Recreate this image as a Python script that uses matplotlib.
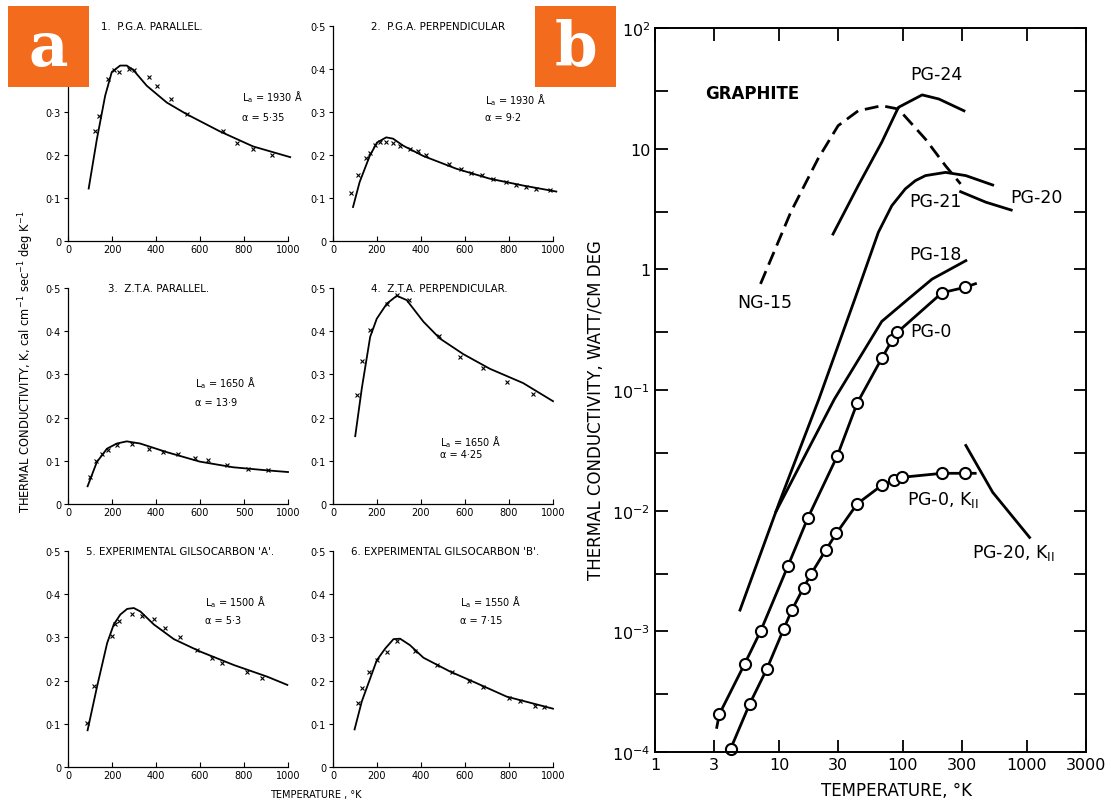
import matplotlib
matplotlib.use("Agg")
import matplotlib.pyplot as plt
from matplotlib.patches import Rectangle
from matplotlib.ticker import NullLocator, FixedLocator

plt.rcParams['font.family'] = ['DejaVu Sans']

# ---------------- panel (a): K(T) for six graphites, linear axes ----------------
# 1. P.G.A. parallel
pga_par_T = [94, 131, 169, 199, 237, 267, 298, 358, 449, 539, 690, 841, 1010]
pga_par_K = [0.122, 0.236, 0.338, 0.393, 0.408, 0.408, 0.397, 0.361, 0.322, 0.295, 0.255, 0.220, 0.195]
pga_par_pts_T = [121, 139, 184, 207, 230, 275, 298, 370, 403, 467, 542, 705, 769, 841, 929]
pga_par_pts_K = [0.255, 0.290, 0.377, 0.397, 0.394, 0.400, 0.397, 0.381, 0.360, 0.330, 0.295, 0.255, 0.229, 0.214, 0.200]

# 2. P.G.A. perpendicular
pga_perp_T = [91, 121, 167, 200, 242, 273, 318, 409, 561, 712, 864, 1015]
pga_perp_K = [0.079, 0.137, 0.198, 0.229, 0.241, 0.238, 0.222, 0.198, 0.168, 0.145, 0.129, 0.115]
pga_perp_pts_T = [83, 114, 148, 167, 189, 212, 242, 273, 303, 348, 386, 424, 527, 583, 629, 679, 727, 788, 833, 879, 924, 985]
pga_perp_pts_K = [0.112, 0.154, 0.192, 0.205, 0.223, 0.231, 0.231, 0.229, 0.222, 0.214, 0.210, 0.201,
                  0.178, 0.168, 0.158, 0.154, 0.145, 0.138, 0.131, 0.125, 0.122, 0.118]

# 3. Z.T.A. parallel
zta_par_T = [89, 131, 177, 222, 267, 328, 449, 600, 751, 902, 1000]
zta_par_K = [0.041, 0.097, 0.128, 0.140, 0.145, 0.140, 0.120, 0.098, 0.085, 0.078, 0.074]
zta_par_pts_T = [98, 128, 154, 184, 222, 290, 366, 434, 502, 577, 637, 721, 819, 909]
zta_par_pts_K = [0.062, 0.099, 0.115, 0.126, 0.136, 0.140, 0.128, 0.120, 0.115, 0.107, 0.101, 0.091, 0.081, 0.079]

# 4. Z.T.A. perpendicular
zta_perp_T = [101, 131, 169, 199, 245, 290, 335, 411, 486, 592, 713, 864, 1000]
zta_perp_K = [0.157, 0.268, 0.387, 0.429, 0.464, 0.482, 0.472, 0.422, 0.383, 0.347, 0.313, 0.280, 0.238]
zta_perp_pts_T = [109, 131, 169, 245, 290, 347, 483, 577, 680, 790, 909]
zta_perp_pts_K = [0.253, 0.330, 0.403, 0.462, 0.483, 0.472, 0.390, 0.341, 0.314, 0.282, 0.255]

# 5. Experimental Gilsocarbon 'A'
gil_a_T = [89, 132, 178, 208, 238, 269, 299, 329, 390, 481, 602, 754, 906, 997]
gil_a_K = [0.085, 0.186, 0.287, 0.330, 0.353, 0.366, 0.368, 0.360, 0.330, 0.296, 0.267, 0.236, 0.209, 0.190]
gil_a_pts_T = [86, 120, 200, 215, 231, 291, 337, 390, 443, 511, 587, 656, 701, 815, 883]
gil_a_pts_K = [0.102, 0.188, 0.304, 0.332, 0.337, 0.354, 0.349, 0.343, 0.322, 0.301, 0.271, 0.252, 0.240, 0.219, 0.205]

# 6. Experimental Gilsocarbon 'B'
gil_b_T = [98, 131, 169, 199, 237, 275, 305, 350, 411, 532, 653, 789, 1000]
gil_b_K = [0.087, 0.152, 0.205, 0.247, 0.274, 0.296, 0.297, 0.282, 0.253, 0.221, 0.194, 0.163, 0.135]
gil_b_pts_T = [113, 131, 165, 202, 245, 293, 374, 473, 541, 616, 681, 798, 851, 919, 957]
gil_b_pts_K = [0.148, 0.184, 0.219, 0.247, 0.266, 0.291, 0.268, 0.236, 0.221, 0.199, 0.186, 0.159, 0.152, 0.142, 0.140]

titles_a = ["1.  P.G.A. PARALLEL.", "2.  P.G.A. PERPENDICULAR", "3.  Z.T.A. PARALLEL.",
            "4.  Z.T.A. PERPENDICULAR.", "5. EXPERIMENTAL GILSOCARBON 'A'.",
            "6. EXPERIMENTAL GILSOCARBON 'B'."]
la_values = ["1930", "1930", "1650", "1650", "1500", "1550"]
alpha_values = ["5·35", "9·2", "13·9", "4·25", "5·3", "7·15"]
xtick_vals_a = [0, 200, 400, 600, 800, 1000]
xtick_labels_a = [
    ["0", "200", "400", "600", "800", "1000"],
    ["0", "200", "400", "600", "800", "1000"],
    ["0", "200", "400", "600", "500", "1000"],
    ["0", "200", "200", "600", "800", "1000"],
    ["0", "200", "400", "600", "800", "1000"],
    ["0", "200", "400", "600", "800", "1000"],
]
ytick_vals_a = [0, 0.1, 0.2, 0.3, 0.4, 0.5]
ytick_labels_a = ["0", "0·1", "0·2", "0·3", "0·4", "0·5"]

# ---------------- panel (b): graphite K(T), log-log ----------------
ng15_T = [7.1, 12.5, 20.6, 30, 43.6, 67.5, 92, 152, 221, 292]
ng15_K = [0.757, 3.0, 8.2, 15.5, 20.6, 22.7, 21.3, 12.0, 7.2, 5.1]

pg24_T = [27.3, 43.6, 67.5, 92, 143, 195, 311]
pg24_K = [1.96, 4.94, 11.3, 22.0, 27.9, 25.8, 20.6]

pg21_T = [4.85, 10, 21, 41, 63.4, 81.4, 104.5, 126, 152, 221, 322, 530]
pg21_K = [1.5e-3, 0.0115, 0.084, 0.57, 2.03, 3.37, 4.64, 5.43, 5.98, 6.36, 5.98, 5.0]

pg20_T = [292, 467, 748]
pg20_K = [4.4, 3.6, 3.1]

pg18_T = [9.45, 17.3, 28, 67.5, 111, 172, 322]
pg18_K = [0.0098, 0.0325, 0.084, 0.37, 0.57, 0.83, 1.18]

pg0_line_T = [3.15, 3.3, 5.3, 7.1, 11.8, 17.1, 29.5, 42.8, 67.5, 82, 90, 207, 318, 385]
pg0_line_K = [1.6e-4, 2.05e-4, 5.4e-4, 1.0e-3, 3.47e-3, 8.7e-3, 0.0283, 0.078, 0.183, 0.26, 0.30, 0.64, 0.71, 0.76]
pg0_pts_T = [3.3, 5.3, 7.1, 11.8, 17.1, 29.5, 42.8, 67.5, 82, 90, 207, 318]
pg0_pts_K = [2.05e-4, 5.4e-4, 1.0e-3, 3.47e-3, 8.7e-3, 0.0283, 0.078, 0.183, 0.26, 0.30, 0.64, 0.71]

pg0par_line_T = [4.07, 5.8, 8.0, 10.9, 12.7, 15.8, 18.2, 23.8, 29.1, 42.8, 67.5, 84, 98, 207, 318, 383]
pg0par_line_K = [1.06e-4, 2.5e-4, 4.9e-4, 1.04e-3, 1.5e-3, 2.3e-3, 3.0e-3, 4.7e-3, 6.5e-3, 0.0114,
                 0.0162, 0.0178, 0.0189, 0.0204, 0.0204, 0.0204]
pg0par_pts_T = [4.07, 5.8, 8.0, 10.9, 12.7, 15.8, 18.2, 23.8, 29.1, 42.8, 67.5, 84, 98, 207, 318]
pg0par_pts_K = [1.06e-4, 2.5e-4, 4.9e-4, 1.04e-3, 1.5e-3, 2.3e-3, 3.0e-3, 4.7e-3, 6.5e-3, 0.0114,
                0.0162, 0.0178, 0.0189, 0.0204, 0.0204]

pg20par_T = [322, 530, 1052]
pg20par_K = [0.0347, 0.0142, 6.0e-3]

xticks_b = [1, 3, 10, 30, 100, 300, 1000, 3000]
xtick_labels_b = ["1", "3", "10", "30", "100", "300", "1000", "3000"]
yticks_b = [1e-4, 1e-3, 1e-2, 1e-1, 1, 10, 100]
ytick_labels_b = [r"$10^{-4}$", r"$10^{-3}$", r"$10^{-2}$", r"$10^{-1}$", "1", "10", r"$10^{2}$"]
yticks_minor_b = [3e-4, 3e-3, 3e-2, 3e-1, 3, 30]

# ---------------- figure ----------------
W, H = 1115, 803
fig = plt.figure(figsize=(W / 100, H / 100), dpi=100)
fig.patch.set_facecolor("white")

col_left = [68, 333]
row_zero = [242, 505, 768]
row_top = [27, 289, 552]
ax_w = 220

curves = [
    (pga_par_T, pga_par_K, pga_par_pts_T, pga_par_pts_K),
    (pga_perp_T, pga_perp_K, pga_perp_pts_T, pga_perp_pts_K),
    (zta_par_T, zta_par_K, zta_par_pts_T, zta_par_pts_K),
    (zta_perp_T, zta_perp_K, zta_perp_pts_T, zta_perp_pts_K),
    (gil_a_T, gil_a_K, gil_a_pts_T, gil_a_pts_K),
    (gil_b_T, gil_b_K, gil_b_pts_T, gil_b_pts_K),
]
title_x = [150, 172, 180, 172, 80, 80]
note_pos = [(790, 0.337, 0.288), (691, 0.330, 0.288), (577, 0.282, 0.236),
            (486, 0.146, 0.116), (623, 0.384, 0.340), (577, 0.384, 0.340)]

for i, (cT, cK, pT, pK) in enumerate(curves):
    r, c = divmod(i, 2)
    left = col_left[c] / W
    bottom = 1 - row_zero[r] / H
    height = (row_zero[r] - row_top[r]) / H
    ax = fig.add_axes([left, bottom, ax_w / W, height])
    ax.set_xlim(0, 1000)
    ax.set_ylim(0, 0.5)
    for s in ("top", "right"):
        ax.spines[s].set_visible(False)
    for s in ("left", "bottom"):
        ax.spines[s].set_linewidth(0.9)
    ax.set_xticks(xtick_vals_a)
    ax.set_xticklabels(xtick_labels_a[i])
    ax.set_yticks(ytick_vals_a)
    ylabels = list(ytick_labels_a)
    if i == 0:
        # the top two labels of the first plot sit under the panel badge
        ylabels[4] = ""
        ylabels[5] = ""
    ax.set_yticklabels(ylabels)
    ax.tick_params(axis="x", direction="in", length=3.5, width=0.8, labelsize=7, pad=2)
    ax.tick_params(axis="y", direction="out", length=3, width=0.8, labelsize=7, pad=2)
    ax.plot(cT, cK, color="black", lw=1.3, clip_on=False)
    ax.plot(pT, pK, ls="none", marker="x", ms=3.2, mew=0.8, color="black", clip_on=False)
    ax.text(title_x[i], 0.5, titles_a[i], fontsize=7.4, ha="left", va="center")
    nx, ny1, ny2 = note_pos[i]
    ax.text(nx, ny1, r"L$_{\mathregular{a}}$ = " + la_values[i] + " Å", fontsize=7, ha="left", va="center")
    ax.text(nx, ny2, "α = " + alpha_values[i], fontsize=7, ha="left", va="center")

fig.text(26 / W, 1 - 362 / H,
         r"THERMAL CONDUCTIVITY, K, cal cm$^{-1}$ sec$^{-1}$ deg K$^{-1}$",
         rotation=90, ha="center", va="center", fontsize=8.3)
fig.text(316 / W, 1 - 795 / H, "TEMPERATURE , °K", ha="center", va="center", fontsize=7)

# panel (b)
axb = fig.add_axes([655 / W, 1 - 753 / H, 431 / W, 724 / H])
axb.set_xscale("log")
axb.set_yscale("log")
axb.set_xlim(1, 3000)
axb.set_ylim(1e-4, 1e2)
axb.xaxis.set_major_locator(FixedLocator(xticks_b))
axb.xaxis.set_minor_locator(NullLocator())
axb.set_xticklabels(xtick_labels_b)
axb.yaxis.set_major_locator(FixedLocator(yticks_b))
axb.set_yticklabels(ytick_labels_b)
axb.yaxis.set_minor_locator(FixedLocator(yticks_minor_b))
axb.yaxis.set_minor_formatter(plt.NullFormatter())
axb.tick_params(which="both", direction="in", top=True, right=True,
                length=9, width=1.3, labelsize=11.5)
for s in axb.spines.values():
    s.set_linewidth(1.4)

lw_b = 2.0
axb.plot(ng15_T, ng15_K, color="black", lw=lw_b, ls=(0, (5, 2.5)))
axb.plot(pg24_T, pg24_K, color="black", lw=lw_b)
axb.plot(pg21_T, pg21_K, color="black", lw=lw_b)
axb.plot(pg20_T, pg20_K, color="black", lw=lw_b)
axb.plot(pg18_T, pg18_K, color="black", lw=lw_b)
axb.plot(pg0_line_T, pg0_line_K, color="black", lw=lw_b)
axb.plot(pg0_pts_T, pg0_pts_K, ls="none", marker="o", ms=8, mfc="white", mec="black", mew=1.5, clip_on=False)
axb.plot(pg0par_line_T, pg0par_line_K, color="black", lw=lw_b)
axb.plot(pg0par_pts_T, pg0par_pts_K, ls="none", marker="o", ms=8, mfc="white", mec="black", mew=1.5, clip_on=False)
axb.plot(pg20par_T, pg20par_K, color="black", lw=lw_b)

lab_kw = dict(fontsize=12.5, ha="left", va="center")
axb.text(2.55, 29, "GRAPHITE", fontsize=12, fontweight="semibold", ha="left", va="center")
axb.text(114, 41.6, "PG-24", **lab_kw)
axb.text(113, 3.69, "PG-21", **lab_kw)
axb.text(728, 3.98, "PG-20", **lab_kw)
axb.text(113, 1.34, "PG-18", **lab_kw)
axb.text(4.64, 0.537, "NG-15", **lab_kw)
axb.text(114, 0.309, "PG-0", **lab_kw)
axb.text(108, 0.0125, r"PG-0, K$_{\mathregular{II}}$", **lab_kw)
axb.text(364, 4.56e-3, r"PG-20, K$_{\mathregular{II}}$", **lab_kw)
axb.set_ylabel("THERMAL CONDUCTIVITY, WATT/CM DEG", fontsize=12)
axb.yaxis.set_label_coords(-0.116, 0.474)
axb.set_xlabel("TEMPERATURE, °K", fontsize=12)
axb.xaxis.set_label_coords(0.561, -0.040)

# panel badges
badge_color = "#F36B1C"
for x0, letter in ((8, "a"), (535, "b")):
    fig.patches.append(Rectangle((x0 / W, 1 - 88 / H), 81 / W, 81 / H,
                                 transform=fig.transFigure, facecolor=badge_color,
                                 edgecolor="none", zorder=10))
    fig.text((x0 + 40.5) / W, 1 - 49 / H, letter, color="white", fontsize=44,
             fontweight="bold", family="DejaVu Serif", ha="center", va="center", zorder=11)

fig.savefig("out.png", dpi=100, facecolor="white")
